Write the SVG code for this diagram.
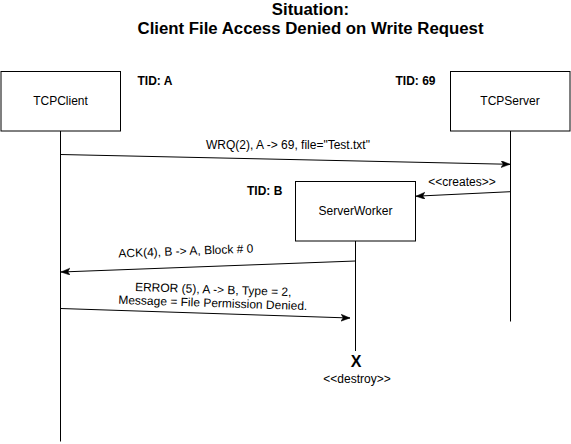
<svg xmlns="http://www.w3.org/2000/svg" width="571" height="444" viewBox="0 0 571 444">
<style>
  .box { fill: #ffffff; stroke: #000000; stroke-width: 1; }
  .life { stroke: #000000; stroke-width: 1; fill: none; }
  .msg { stroke: #000000; stroke-width: 1; fill: none; }
  .t { font-family: "Liberation Sans", Arial, Helvetica, sans-serif; font-size: 12px; fill: #000000; }
  .b { font-weight: bold; }
  .title { font-family: "Liberation Sans", Arial, Helvetica, sans-serif; font-size: 16.8px; font-weight: bold; fill: #000000; text-anchor: middle; }
  .mid { text-anchor: middle; }
</style>
<defs>
  <marker id="arr" markerUnits="userSpaceOnUse" markerWidth="11" markerHeight="9" refX="9" refY="3.5" orient="auto">
    <path d="M0,0 L9,3.5 L0,7 L2.2,3.5 Z" fill="#000000" stroke="#000000" stroke-width="0.5"/>
  </marker>
</defs>

<g id="title">
  <text class="title" x="310.5" y="14.5">Situation:</text>
  <text class="title" x="310.5" y="34">Client File Access Denied on Write Request</text>
</g>

<g id="tcpclient">
  <rect class="box" x="1" y="71.5" width="119.5" height="59.5"/>
  <text class="t mid" x="60.5" y="105">TCPClient</text>
  <text class="t b" x="137.5" y="85">TID: A</text>
</g>

<g id="tcpserver">
  <rect class="box" x="450.5" y="71.5" width="119.5" height="59.5"/>
  <text class="t mid" x="510" y="105">TCPServer</text>
  <text class="t b" x="395.5" y="85">TID: 69</text>
</g>

<g id="serverworker">
  <rect class="box" x="295.5" y="181.5" width="120" height="59.5"/>
  <text class="t mid" x="355.5" y="215">ServerWorker</text>
  <text class="t b" x="247" y="194.5">TID: B</text>
</g>

<g id="destroy">
  <text class="t b mid" x="356" y="367" style="font-size:16px">X</text>
  <text class="t mid" x="357" y="383">&lt;&lt;destroy&gt;&gt;</text>
</g>

<g id="connectors">
  <line class="life" x1="60.5" y1="131" x2="60.5" y2="441.5"/>
  <line class="life" x1="510.5" y1="131" x2="510.5" y2="321.5"/>
  <line class="life" x1="355.5" y1="241" x2="355.5" y2="351"/>

  <line class="msg" x1="60.5" y1="154.5" x2="510" y2="164.3" marker-end="url(#arr)"/>
  <text class="t mid" x="288" y="149">WRQ(2), A -&gt; 69, file="Test.txt"</text>

  <line class="msg" x1="510.5" y1="191.7" x2="416" y2="196.2" marker-end="url(#arr)"/>
  <text class="t mid" x="462" y="185.5">&lt;&lt;creates&gt;&gt;</text>

  <line class="msg" x1="355.5" y1="261" x2="61" y2="272" marker-end="url(#arr)"/>
  <text class="t mid" x="186" y="255" transform="rotate(-2.1 186 255)">ACK(4), B -&gt; A, Block # 0</text>

  <line class="msg" x1="60.5" y1="308.5" x2="350" y2="318" marker-end="url(#arr)"/>
  <g transform="rotate(1.9 213 298)">
    <text class="t mid" x="213" y="293.5">ERROR (5), A -&gt; B, Type = 2,</text>
    <text class="t mid" x="213" y="307">Message = File Permission Denied.</text>
  </g>
</g>
</svg>
